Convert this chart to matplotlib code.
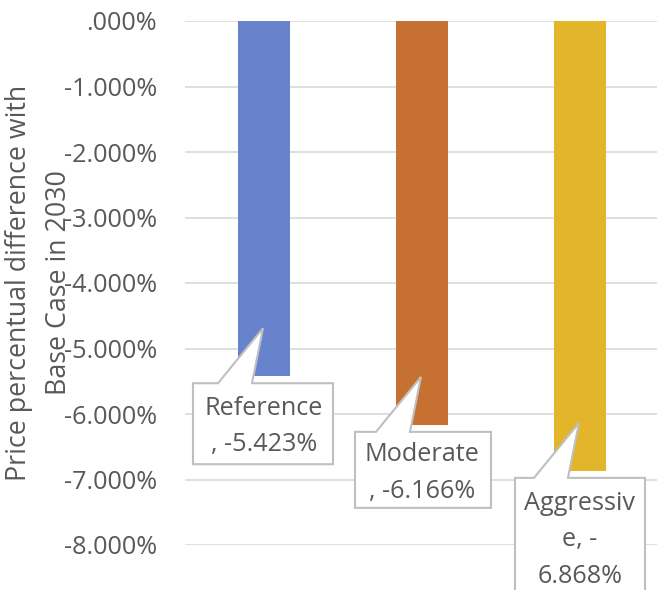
import matplotlib
matplotlib.use("Agg")
import matplotlib.pyplot as plt
from matplotlib.patches import Polygon
from matplotlib.ticker import FuncFormatter

categories = ["Reference", "Moderate", "Aggressive"]
values = [-5.423, -6.166, -6.868]
label_texts = ["Reference\n, -5.423%", "Moderate\n, -6.166%", "Aggressiv\ne, -\n6.868%"]
colors = ["#6683CC", "#C67032", "#E3B52A"]
ylabel = "Price percentual difference with\nBase Case in 2030"

plt.rcParams['font.family'] = ['Open Sans', 'DejaVu Sans']
TXT = "#595959"
FS = 18.2

W, H = 657, 590
fig = plt.figure(figsize=(W / 100, H / 100), dpi=100)
ax_l, ax_r, ax_t, ax_b = 185, 659, 21, 545
ax = fig.add_axes([ax_l / W, 1 - ax_b / H, (ax_r - ax_l) / W, (ax_b - ax_t) / H])

x = list(range(len(categories)))
ax.bar(x, values, width=0.33, color=colors, zorder=2)
ax.set_xlim(-0.5, 2.5)
ax.set_ylim(-8, 0)
ax.set_yticks([-8, -7, -6, -5, -4, -3, -2, -1, 0])

def fmt(v, pos):
    if abs(v) < 1e-9:
        return ".000%"
    return "%.3f%%" % v

ax.yaxis.set_major_formatter(FuncFormatter(fmt))
ax.tick_params(axis='y', length=0, pad=20, labelsize=FS, labelcolor=TXT)
ax.set_xticks([])
for s in ax.spines.values():
    s.set_visible(False)
ax.grid(axis='y', color="#D9D9D9", lw=1.2, zorder=0)
ax.set_axisbelow(True)

fig.text(39 / W, 1 - 283 / H, ylabel, rotation=90, ha='center', va='center',
         multialignment='center', fontsize=19.3, color=TXT, linespacing=1.6)

# callout geometry (px converted to data units)
px_x = 1 / 158.0
px_y = 1 / 65.5
box_specs = [  # left, right offsets (px), height px
    (-71, 69, 81),
    (-67, 69, 76),
    (-65, 65, 125),
]
for xi, v, txt, (bl, br, bh) in zip(x, values, label_texts, box_specs):
    tip_y = v + 48 * px_y
    top = v - 7 * px_y
    bot = top - bh * px_y
    L = xi + bl * px_x
    R = xi + br * px_x
    w1 = xi - 46 * px_x
    w2 = xi - 12 * px_x
    tip_x = xi - 1 * px_x
    poly = [(L, top), (w1, top), (tip_x, tip_y), (w2, top), (R, top), (R, bot), (L, bot)]
    ax.add_patch(Polygon(poly, closed=True, facecolor="white", edgecolor="#BFBFBF",
                         lw=1.5, zorder=4, clip_on=False))
    two = txt.count("\n") == 1
    ax.text(xi, (top + bot) / 2 - 3 * px_y if two else top - 13 * px_y, txt,
            ha='center', va='center' if two else 'top',
            multialignment='center', fontsize=FS, color=TXT, zorder=5,
            linespacing=1.6, clip_on=False)

fig.savefig("out.png", dpi=100)
